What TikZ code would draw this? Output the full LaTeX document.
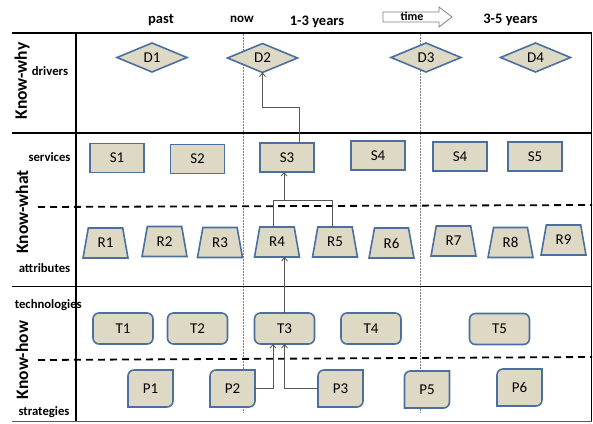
\documentclass[tikz,border=0pt]{standalone}
\usepackage{fontspec}
\setmainfont{Carlito}
\usetikzlibrary{shapes.geometric,arrows.meta}
\pgfdeclarelayer{bg}
\pgfsetlayers{bg,main}
\definecolor{tanfill}{HTML}{DDD9C4}
\definecolor{bluedge}{HTML}{4A6FA0}
\definecolor{conn}{HTML}{555555}
\newcommand\pdrawshape[1]{%
  \begin{pgfonlayer}{bg}
  \draw[pshape] ([yshift=-6pt]#1.north west) arc[start angle=180,end angle=90,radius=6pt]
    -- (#1.north east) -- ([yshift=6pt]#1.south east) arc[start angle=0,end angle=-90,radius=6pt]
    -- (#1.south west) -- cycle;
  \end{pgfonlayer}}
\begin{document}
\begin{tikzpicture}[x=1pt,y=-1pt,
  every node/.style={inner sep=0pt, outer sep=0pt},
  lab/.style={font=\fontsize{15}{17}\selectfont},
  dnode/.style={diamond, draw=bluedge, fill=tanfill, line width=1.6pt, minimum width=70pt, minimum height=29pt, lab},
  snode/.style={rectangle, draw=bluedge, fill=tanfill, line width=1.6pt, minimum width=54pt, minimum height=29pt, lab},
  rnode/.style={trapezium, trapezium angle=76, trapezium stretches=true, draw=bluedge, fill=tanfill, line width=1.6pt, minimum width=45pt, minimum height=30pt, lab},
  tnode/.style={rectangle, rounded corners=6pt, draw=bluedge, fill=tanfill, line width=1.6pt, minimum width=60pt, minimum height=31pt, lab},
  pnode/.style={rectangle, minimum width=45pt, minimum height=37pt, lab},
  pshape/.style={draw=bluedge, fill=tanfill, line width=1.6pt},
  hdr/.style={font=\bfseries\fontsize{14.5}{16}\selectfont},
  side/.style={font=\bfseries\fontsize{12.7}{14}\selectfont},
  know/.style={font=\bfseries\fontsize{17.5}{20}\selectfont, rotate=90},
  frame/.style={line width=1.6pt, black},
  sep/.style={line width=1.8pt, dash pattern=on 7pt off 5pt},
  timeline/.style={gray, line width=0.7pt, dash pattern=on 1.5pt off 1.5pt},
  link/.style={conn, line width=0.8pt},
  arr/.style={link, -{Straight Barb[length=3.5pt,width=6pt]}}
]
\useasboundingbox (0,0) rectangle (593,423);

% grid (background)
\begin{pgfonlayer}{bg}
\draw[timeline] (243,34) -- (243,413);
\draw[timeline] (420.5,34) -- (420.5,413);
\draw[frame] (12,33) -- (592,33);
\draw[frame] (12,133) -- (592,133);
\draw[frame] (12,286.5) -- (592,286.5);
\draw[gray!70!black, line width=1pt] (12,421) -- (591.5,421);
\draw[frame] (76,33) -- (76,421);
\draw[line width=1.2pt] (591.5,33) -- (591.5,421);
\draw[sep] (38,207) -- (592,205);
\draw[sep] (38,360) -- (592,357);
\end{pgfonlayer}

% header
\node[hdr] (past) at (161,20) {past};
\node[hdr, font=\bfseries\fontsize{13}{15}\selectfont] (now) at (242,19) {now};
\node[hdr] (y13) at (317,22) {1-3 years};
\node[hdr] (y35) at (510.5,20) {3-5 years};
\draw[gray, fill=white, line width=0.8pt] (383,12) -- (439,12) -- (439,7) -- (452,17) -- (439,27) -- (439,22) -- (383,22) -- cycle;
\node[font=\bfseries\fontsize{12}{14}\selectfont] (time) at (412,16.5) {time};

% side labels
\node[know] (kwhy) at (22,81) {Know-why};
\node[know] (kwhat) at (22,212) {Know-what};
\node[know] (khow) at (22,360) {Know-how};
\node[side] (drv) at (50,71) {drivers};
\node[side] (srv) at (49.5,157) {services};
\node[side] (att) at (44.5,268) {attributes};
\node[side] (tec) at (48.3,305) {technologies};
\node[side] (str) at (44,412) {strategies};

% drivers
\node[dnode] (D1) at (152,57.5) {D1};
\node[dnode] (D2) at (262.5,58) {D2};
\node[dnode] (D3) at (426,57.5) {D3};
\node[dnode] (D4) at (535.5,57.5) {D4};

% services
\node[snode] (S1) at (117,158) {S1};
\node[snode] (S2) at (197.5,159) {S2};
\node[snode] (S3) at (287,157.5) {S3};
\node[snode] (S4a) at (378,155.5) {S4};
\node[snode] (S4b) at (460,156.5) {S4};
\node[snode] (S5) at (535,156.5) {S5};

% attributes
\node[rnode] (R1) at (105.5,243) {R1};
\node[rnode] (R2) at (164.5,241.5) {R2};
\node[rnode] (R3) at (220,242.5) {R3};
\node[rnode] (R4) at (277,242) {R4};
\node[rnode] (R5) at (335,242) {R5};
\node[rnode] (R6) at (391.5,243) {R6};
\node[rnode] (R7) at (453.5,241) {R7};
\node[rnode] (R8) at (510.5,242.5) {R8};
\node[rnode] (R9) at (563.5,240) {R9};

% technologies
\node[tnode] (T1) at (123,328.5) {T1};
\node[tnode] (T2) at (197.5,328.5) {T2};
\node[tnode] (T3) at (284.5,328.5) {T3};
\node[tnode] (T4) at (371,328.5) {T4};
\node[tnode] (T5) at (499.5,329) {T5};

% strategies
\node[pnode] (P1) at (150.5,388.5) {P1};
\node[pnode] (P2) at (232.5,388.5) {P2};
\node[pnode] (P3) at (340.5,388.5) {P3};
\node[pnode] (P5) at (427,389.5) {P5};
\node[pnode] (P6) at (519.5,387.5) {P6};
\pdrawshape{P1}\pdrawshape{P2}\pdrawshape{P3}\pdrawshape{P5}\pdrawshape{P6}

% connectors
\coordinate (bend) at (262.5,107);
\coordinate (J) at (284,200);
\draw[arr] ([xshift=12pt]S3.north) |- (bend) -- (D2.south);
\draw[link] ([xshift=-3.7pt]R4.north) |- ([xshift=-3pt]R5.north |- J) -- ([xshift=-3pt]R5.north);
\draw[arr] (J) -- (J |- S3.south);
\draw[arr] (T3.north) -- (T3.north |- R4.south);
\draw[arr] (P2.east) -| ([xshift=-11.5pt]T3.south);
\draw[arr] (P3.west) -| (T3.south);
\end{tikzpicture}
\end{document}
